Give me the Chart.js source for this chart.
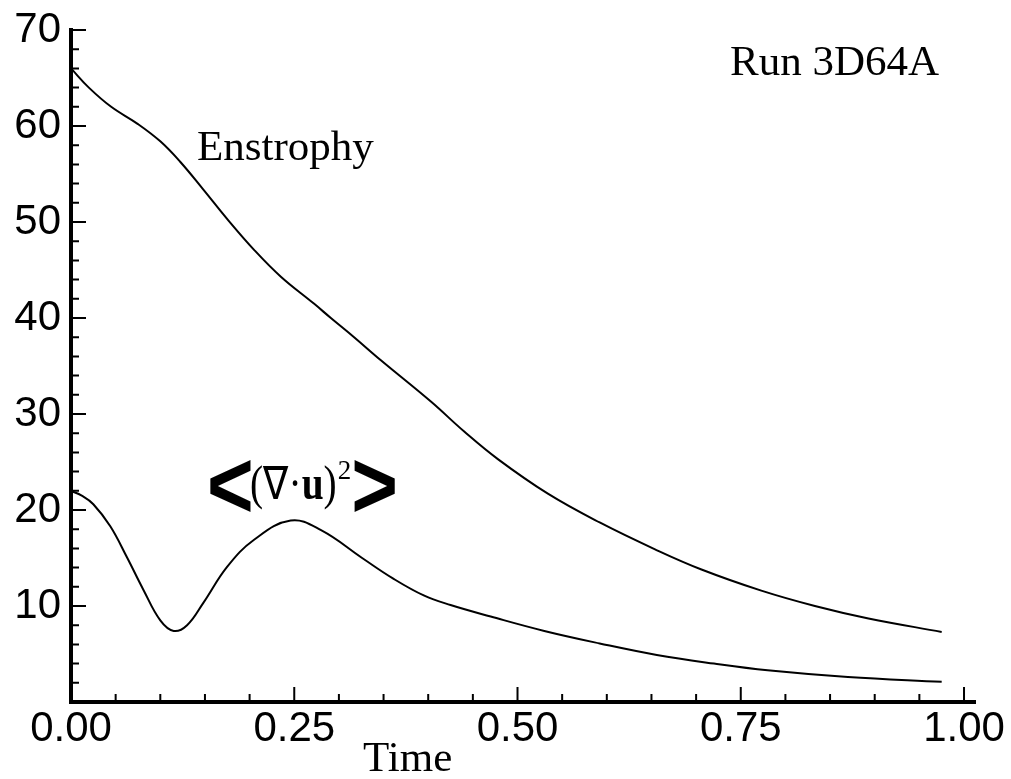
<!DOCTYPE html>
<html>
<head>
<meta charset="utf-8">
<script src="https://cdn.jsdelivr.net/npm/chart.js@4/dist/chart.umd.min.js"></script>
<style>
  html, body { margin: 0; padding: 0; background: #fff; }
  #wrap { width: 1011px; height: 779px; }
</style>
</head>
<body>
<div id="wrap"><canvas id="enstrophyChart" width="1011" height="779"></canvas></div>
<script>
// Enstrophy history, run 3D64A
const timeEnstrophy = [0, 0.02, 0.045, 0.075, 0.1, 0.122, 0.148, 0.175, 0.205, 0.235, 0.272, 0.291,
	0.317, 0.347, 0.403, 0.44, 0.478, 0.534, 0.592, 0.654, 0.706, 0.773, 0.833, 0.893, 0.975];
const enstrophy = [66.0, 64.0, 62.0, 60.2, 58.4, 56.3, 53.4, 50.3, 47.1, 44.3, 41.5, 40.0,
	38.0, 35.6, 31.3, 28.2, 25.3, 21.7, 18.7, 15.9, 13.8, 11.6, 10.0, 8.7, 7.3];

// Mean squared divergence <(div u)^2>
const timeDivergence = [0, 0.012, 0.025, 0.044, 0.0625, 0.081, 0.1, 0.115, 0.13, 0.148, 0.175, 0.205, 0.246,
	0.28, 0.326, 0.36, 0.395, 0.425, 0.47, 0.53, 0.592, 0.656, 0.72, 0.78, 0.87, 0.975];
const divergence = [22.0, 21.5, 20.6, 18.3, 15.1, 11.7, 8.5, 7.4, 8.0, 10.3, 14.1, 16.9, 18.9,
	17.9, 15.0, 12.9, 11.1, 10.1, 8.9, 7.4, 6.1, 4.9, 4.0, 3.3, 2.6, 2.1];

// Axis ticks
const xTicks = [];
for (let i = 0; i <= 20; i++) xTicks.push(i * 0.05);
const xMajor = [0, 0.25, 0.5, 0.75, 1.0];
const yTicks = [];
for (let v = 0; v <= 70; v += 2) yTicks.push(v);
const yMajor = [10, 20, 30, 40, 50, 60, 70];

const SANS = '"Liberation Sans", Arial, sans-serif';
const SERIF = '"Liberation Serif", "Times New Roman", serif';

function toPoints(xs, ys) {
	return xs.map((x, i) => ({ x: x, y: ys[i] }));
}

function isMajor(list, v) {
	return list.some(m => Math.abs(m - v) < 1e-6);
}

// Inward ticks plus the text annotations
const decorPlugin = {
	id: 'decor',
	afterDraw(chart) {
		const ctx = chart.ctx;
		const xs = chart.scales.x;
		const ys = chart.scales.y;
		const area = chart.chartArea;

		ctx.save();
		ctx.strokeStyle = '#000';
		ctx.lineWidth = 2;
		ctx.beginPath();
		xTicks.forEach(v => {
			const px = xs.getPixelForValue(v);
			const len = isMajor(xMajor, v) ? 15 : 8;
			ctx.moveTo(px, area.bottom);
			ctx.lineTo(px, area.bottom - len);
		});
		yTicks.forEach(v => {
			if (v === 0) return;
			const py = ys.getPixelForValue(v);
			const len = isMajor(yMajor, v) ? 15 : 8;
			ctx.moveTo(area.left, py);
			ctx.lineTo(area.left + len, py);
		});
		ctx.stroke();

		ctx.fillStyle = '#000';
		ctx.textBaseline = 'alphabetic';
		ctx.textAlign = 'left';

		ctx.font = '43px ' + SERIF;
		ctx.fillText('Run 3D64A', 730, 75);
		ctx.fillText('Enstrophy', 197, 160);
		ctx.fillText('Time', 363, 771);

		drawDivergenceLabel(ctx, 210, 499);
		ctx.restore();
	}
};

function drawChevron(ctx, ch, x, y) {
	ctx.save();
	ctx.translate(x, y);
	ctx.scale(1.0, 1.2);
	ctx.font = 'bold 80px ' + SANS;
	ctx.fillText(ch, 0, 0);
	ctx.restore();
}

// <(∇·u)^2> built from pieces so the u can be bold and the 2 raised
function drawDivergenceLabel(ctx, x, base) {
	drawChevron(ctx, '<', x - 3, base + 19);
	x += 40;

	const parts = [
		{ t: '(', f: '48px ' + SERIF },
		{ t: '∇', f: '46px ' + SERIF },
		{ t: '·', f: '48px ' + SERIF },
		{ t: 'u', f: 'bold 48px ' + SERIF },
		{ t: ')', f: '48px ' + SERIF }
	];
	const sx = 0.82;
	ctx.save();
	ctx.translate(x, base);
	ctx.scale(sx, 1);
	let cx = 0;
	parts.forEach(p => {
		ctx.font = p.f;
		ctx.fillText(p.t, cx, 0);
		cx += ctx.measureText(p.t).width;
	});
	ctx.restore();
	x += cx * sx;

	ctx.font = '27px ' + SERIF;
	ctx.fillText('2', x + 1, base - 20);
	x += ctx.measureText('2').width + 5;

	drawChevron(ctx, '>', x - 4, base + 19);
}

new Chart(document.getElementById('enstrophyChart'), {
	type: 'scatter',
	data: {
		datasets: [
			{
				label: 'Enstrophy',
				data: toPoints(timeEnstrophy, enstrophy),
				showLine: true,
				borderColor: '#000',
				borderWidth: 2,
				pointRadius: 0,
				tension: 0.4
			},
			{
				label: '<(∇·u)²>',
				data: toPoints(timeDivergence, divergence),
				showLine: true,
				borderColor: '#000',
				borderWidth: 2,
				pointRadius: 0,
				tension: 0.4
			}
		]
	},
	options: {
		responsive: false,
		animation: false,
		devicePixelRatio: 1,
		layout: { padding: { top: 30, right: 36, left: 0, bottom: 0 } },
		plugins: {
			legend: { display: false },
			tooltip: { enabled: false }
		},
		scales: {
			x: {
				type: 'linear',
				min: 0,
				max: 1.0123,
				afterFit(scale) {
					scale.height = 77;
					scale.paddingLeft = 0;
					scale.paddingRight = 0;
				},
				afterBuildTicks(scale) { scale.ticks = xTicks.map(v => ({ value: v })); },
				grid: { display: false, drawTicks: false },
				border: { display: true, color: '#000', width: 4 },
				ticks: {
					autoSkip: false,
					maxRotation: 0,
					padding: 2,
					color: '#000',
					font: { family: SANS, size: 42 },
					callback: v => isMajor(xMajor, v) ? v.toFixed(2) : ''
				}
			},
			y: {
				type: 'linear',
				min: 0,
				max: 70,
				afterFit(scale) {
					scale.width = 71;
					scale.paddingTop = 0;
					scale.paddingBottom = 0;
				},
				afterBuildTicks(scale) { scale.ticks = yTicks.map(v => ({ value: v })); },
				grid: { display: false, drawTicks: false },
				border: { display: true, color: '#000', width: 4 },
				ticks: {
					autoSkip: false,
					padding: 10,
					color: '#000',
					font: { family: SANS, size: 42 },
					callback: v => isMajor(yMajor, v) ? String(v) : ''
				}
			}
		}
	},
	plugins: [decorPlugin]
});
</script>
</body>
</html>
